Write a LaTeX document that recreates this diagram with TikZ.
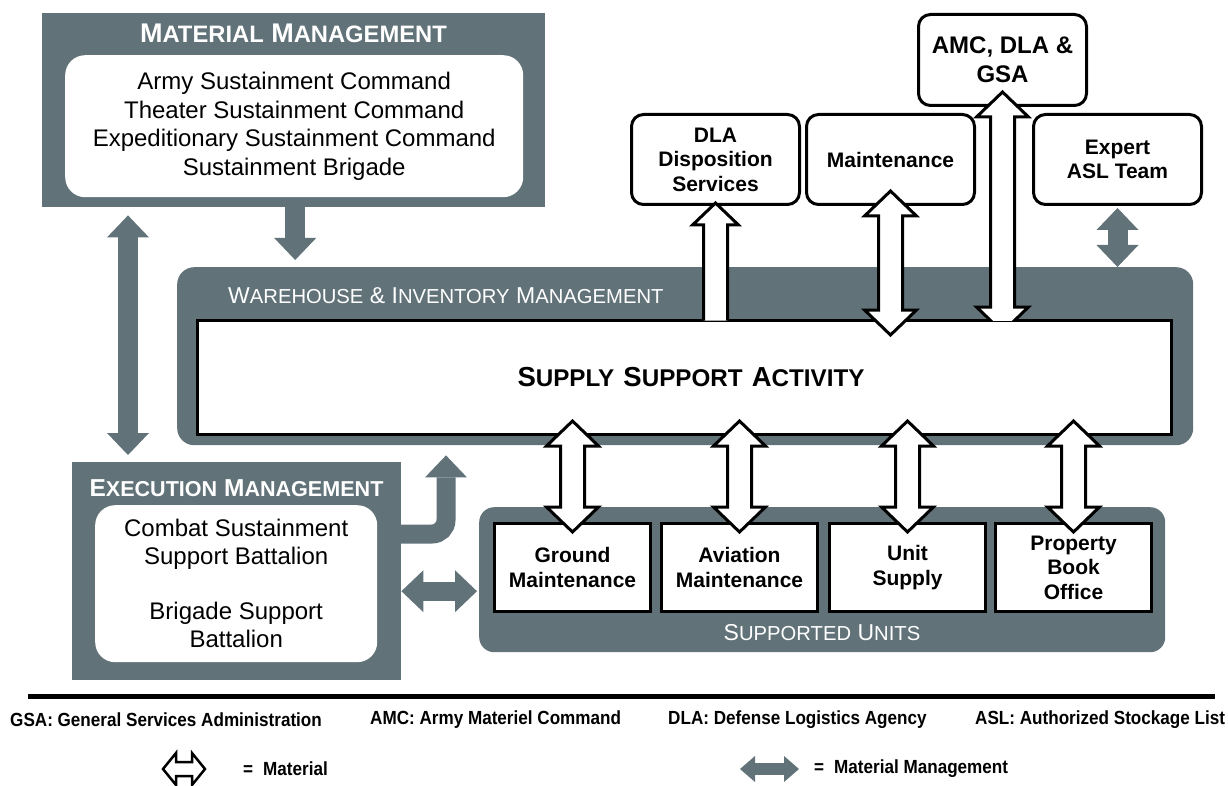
\documentclass[tikz,border=0pt]{standalone}
\usepackage{fontspec}
\setmainfont{Liberation Sans}
\newfontfamily\legfont{Liberation Sans}[FakeStretch=0.9]
\usepackage{graphicx}
\usetikzlibrary{arrows.meta}
\usetikzlibrary{calc}
\definecolor{mgray}{RGB}{97,114,121}
\newcommand{\smc}[1]{\scalebox{0.88}{#1}}
\newcommand{\fsz}[2]{\fontsize{#1pt}{#2pt}\selectfont}
\newcommand{\matarrow}[2]{%
  \draw[matline] let \p1=(#1), \p2=(#2) in
    (\x1,\y1) -- (\x1+26pt,\y1-25pt) -- (\x1+12pt,\y1-25pt) -- (\x1+12pt,\y2+25pt)
    -- (\x1+26pt,\y2+25pt) -- (\x1,\y2) -- (\x1-26pt,\y2+25pt) -- (\x1-12pt,\y2+25pt)
    -- (\x1-12pt,\y1-25pt) -- (\x1-26pt,\y1-25pt) -- cycle;}
\newcommand{\outarrow}[2]{%
  \fill[white] let \p1=(#1), \p2=(#2) in
    (\x1,\y1) -- (\x1+23pt,\y1-22pt) -- (\x1+12pt,\y1-22pt) -- (\x1+12pt,\y2)
    -- (\x1-12pt,\y2) -- (\x1-12pt,\y1-22pt) -- (\x1-23pt,\y1-22pt) -- cycle;
  \draw[matedge] let \p1=(#1), \p2=(#2) in
    (\x1+12pt,\y2) -- (\x1+12pt,\y1-22pt) -- (\x1+23pt,\y1-22pt) -- (\x1,\y1)
    -- (\x1-23pt,\y1-22pt) -- (\x1-12pt,\y1-22pt) -- (\x1-12pt,\y2);}
\newcommand{\legarrow}[2]{%
  \draw[matline, line width=2.5pt] let \p1=(#1), \p2=(#2) in
    (\x1,\y1) -- (\x1+13pt,\y1+16pt) -- (\x1+13pt,\y1+7pt) -- (\x2-13pt,\y1+7pt)
    -- (\x2-13pt,\y1+16pt) -- (\x2,\y1) -- (\x2-13pt,\y1-16pt) -- (\x2-13pt,\y1-7pt)
    -- (\x1+13pt,\y1-7pt) -- (\x1+13pt,\y1-16pt) -- cycle;}
\tikzset{
  graybox/.style={fill=mgray, anchor=north west, inner sep=0pt},
  whitepanel/.style={fill=white, rounded corners=20pt, anchor=north west, inner sep=0pt, align=center},
  topbox/.style={draw=black, line width=3pt, fill=white, rounded corners=12pt, anchor=north west,
    inner sep=0pt, align=center, minimum width=168pt, minimum height=90pt, font=\bfseries\fsz{21}{24.5}},
  unitbox/.style={draw=black, line width=3pt, fill=white, anchor=north west, inner sep=0pt,
    align=center, minimum width=156pt, minimum height=88pt, font=\bfseries\fsz{21}{24.5}},
  titlebf/.style={text=white, inner sep=0pt},
  titlerg/.style={text=white, inner sep=0pt, font=\fsz{23}{26}},
  legend/.style={font=\legfont\bfseries\fsz{19}{22}, inner sep=0pt, anchor=west},
  matedge/.style={draw=black, line width=3pt, line join=miter},
  matline/.style={matedge, fill=white},
  mgmt/.style={draw=mgray, line width=20pt},
  mgtip/.tip={Triangle[width=42pt,length=22pt,line width=0pt]},
  mgsmall/.tip={Triangle[width=26pt,length=15pt,line width=0pt]},
}

\begin{document}
\begin{tikzpicture}[x=1pt, y=-1pt]
  \useasboundingbox (0,0) rectangle (1228,786);
  \node[graybox, minimum width=503pt, minimum height=194pt] (matmgmt) at (42,13) {};
  \node[titlebf, font=\bfseries\fsz{27}{30}] (mmtitle) at (293.5,33) {M\smc{ATERIAL} M\smc{ANAGEMENT}};
  \node[whitepanel, minimum width=458pt, minimum height=142pt, font=\fsz{24}{28.5}] (mmbody) at (65,55)
    {Army Sustainment Command\\Theater Sustainment Command\\Expeditionary Sustainment Command\\Sustainment Brigade};
  \node[graybox, minimum width=329pt, minimum height=218pt] (exec) at (72,462) {};
  \node[titlebf, font=\bfseries\fsz{24.5}{28}] (extitle) at (236.5,488) {E\smc{XECUTION} M\smc{ANAGEMENT}};
  \node[whitepanel, minimum width=282pt, minimum height=157pt, font=\fsz{24}{28}] (exbody) at (95,505)
    {Combat Sustainment\\Support Battalion\\[27pt]Brigade Support\\Battalion};
  \node[graybox, rounded corners=17pt, minimum width=1016pt, minimum height=178pt] (warehouse) at (177,267) {};
  \node[titlerg, anchor=west] (whtitle) at (228,296) {W\smc{AREHOUSE} \& I\smc{NVENTORY} M\smc{ANAGEMENT}};
  \node[draw=black, line width=3pt, fill=white, anchor=north west, inner sep=0pt, minimum width=974pt,
    minimum height=114pt, text width=960pt, align=center, font=\bfseries\fsz{27.5}{30}] (ssa) at (196,319)
    {\hspace*{13pt}S\smc{UPPLY} S\smc{UPPORT} A\smc{CTIVITY}};
  \node[graybox, rounded corners=15pt, minimum width=686pt, minimum height=145pt] (supported) at (479,507) {};
  \node[titlerg] (sutitle) at (822,633) {S\smc{UPPORTED} U\smc{NITS}};
  \node[unitbox] (gm) at (493,522) {Ground\\Maintenance};
  \node[unitbox] (av) at (660,522) {Aviation\\Maintenance};
  \node[unitbox] (us) at (828,522) {Unit\\Supply};
  \node[unitbox] (pbo) at (994,522) {Property\\Book\\Office};
  \node[topbox] (dla) at (630,113) {DLA\\Disposition\\Services};
  \node[topbox] (maint) at (805,113) {Maintenance};
  \node[topbox, minimum height=91pt, font=\bfseries\fsz{24}{29}] (amc) at (917,13) {AMC, DLA \&\\GSA};
  \node[topbox] (asl) at (1032,113) {Expert\\ASL Team};

  \draw[mgmt, -mgtip] ($(matmgmt.south)+(1.5,0)$) -- ($(warehouse.north -| matmgmt.south)+(1.5,-7)$);
  \draw[mgmt, mgtip-mgtip] ($(matmgmt.south west)+(86,8)$) -- ($(exec.north west)+(56,-7)$);
  \draw[mgmt, mgtip-mgtip] ($(asl.south)+(0,2)$) -- (asl.south |- warehouse.north);
  \draw[mgmt, line width=19pt, mgtip-mgtip] ($(exec.east)+(0,20)$) -- ($(supported.west)+(-2,11.5)$);
  \draw[mgmt, line width=19pt, -mgtip, rounded corners=14pt] ($(exec.north east)+(-2,72)$)
    -| ($(warehouse.south west)+(269,10)$);

  \outarrow{$(dla.south)+(0,-3)$}{$(dla.south |- ssa.north)+(0,1.5)$}
  \matarrow{$(maint.south)+(0,-15)$}{$(maint.south |- ssa.north)+(0,16)$}
  \begin{scope}
    \clip (0,0) rectangle (1228,320.5);
    \matarrow{$(amc.south)+(0,-15)$}{$(amc.south |- ssa.north)+(0,13)$}
  \end{scope}
  \foreach \u in {gm,av,us,pbo}
    \matarrow{$(\u.north |- ssa.south)+(0,-15)$}{$(\u.north)+(0,10)$};

  \draw[line width=5pt] (28,696) -- (1215,696);
  \node[legend] (leggsa) at (10,720) {GSA: General Services Administration};
  \node[legend] (legamc) at (370,720) {AMC: Army Materiel Command};
  \node[legend] (legdla) at (668,720) {DLA: Defense Logistics Agency};
  \node[legend] (legasl) at (975,720) {ASL: Authorized Stockage List};
  \node[legend] (legmat) at (243,769) {=\hspace{10pt}Material};
  \node[legend] (legmm) at (814,769) {=\hspace{10pt}Material Management};
  \legarrow{$(legmat.west)+(-80,0)$}{$(legmat.west)+(-38,0)$}
  \draw[mgmt, line width=12pt, mgsmall-mgsmall] ($(legmm.west)+(-74,0)$) -- ($(legmm.west)+(-15,0)$);
\end{tikzpicture}
\end{document}
